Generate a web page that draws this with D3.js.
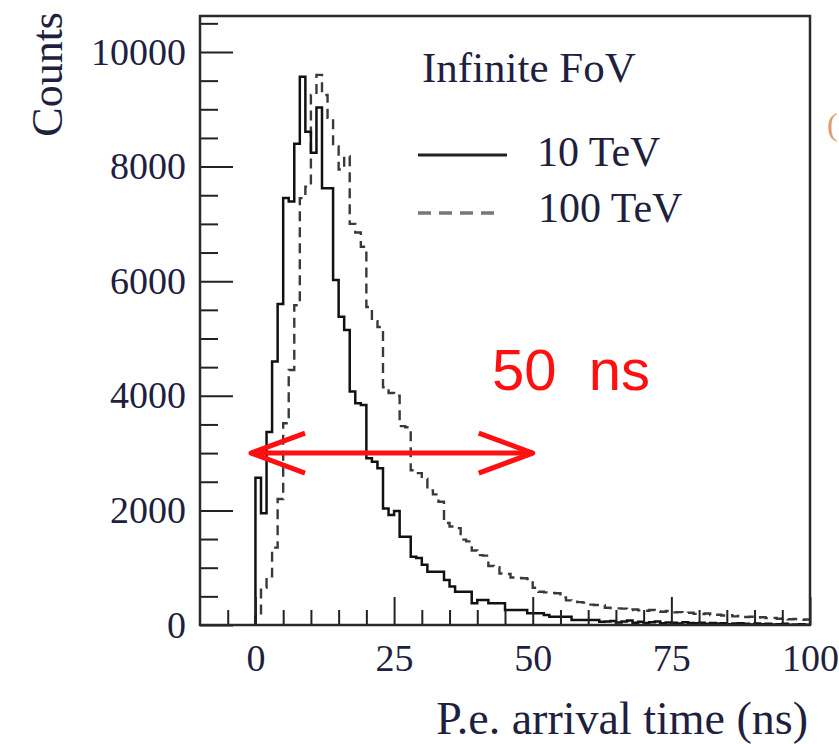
<!DOCTYPE html>
<html>
<head>
<meta charset="utf-8">
<script src="https://cdn.jsdelivr.net/npm/d3@7/dist/d3.min.js"></script>
<style>
  html, body { margin: 0; padding: 0; background: #fff; }
  svg { display: block; }
</style>
</head>
<body>
<svg id="chart" width="839" height="744"></svg>
<script>
// Photo-electron arrival time histograms, 1 ns bins starting at t = 0 ns
const binWidthNs = 1;
const counts10TeV = [
  2570, 1950, 3370, 4600, 5600, 7450, 7390, 8400, 9570, 8610,
  8240, 9030, 7620, 7620, 6020, 5380, 5150, 4075, 3870, 3840,
  2910, 2850, 2735, 2035, 1920, 1990, 1540, 1540, 1190, 1170,
  1050, 930, 930, 930, 785, 670, 580, 580, 580, 380,
  436, 436, 378, 378, 378, 262, 262, 262, 262, 204,
  204, 204, 175, 145, 145, 145, 145, 87, 87, 87,
  87, 87, 58, 60, 70, 45, 60, 80, 40, 55,
  35, 50, 60, 30, 45, 40, 25, 50, 35, 30,
  40, 20, 35, 25, 30, 15, 25, 30, 20, 10,
  25, 15, 20, 10, 15, 20, 5, 10, 15, 5
];
const counts100TeV = [
  150, 650, 850, 1350, 2200, 3520, 4450, 5580, 7450, 7650,
  9250, 9600, 9250, 8850, 8350, 7950, 8180, 7000, 6850, 6600,
  5550, 5300, 5200, 4150, 4050, 4000, 3470, 3450, 2700, 2650,
  2550, 2350, 2280, 2150, 1780, 1720, 1690, 1490, 1460, 1300,
  1220, 1210, 1030, 1010, 900, 890, 830, 820, 815, 800,
  650, 580, 570, 560, 555, 480, 430, 405, 400, 390,
  355, 350, 345, 300, 295, 290, 285, 260, 270, 255,
  250, 262, 240, 230, 245, 220, 225, 210, 215, 195,
  190, 200, 175, 180, 165, 170, 150, 160, 140, 145,
  130, 135, 120, 125, 110, 115, 100, 105, 90, 95
];

// Axis ticks
const xMajorTicks = [0, 25, 50, 75, 100];
const xMinorTicks = [-5, 5, 10, 15, 20, 30, 35, 40, 45, 55, 60, 65, 70, 80, 85, 90, 95];
const yMajorTicks = [0, 2000, 4000, 6000, 8000, 10000];
const yMinorTicks = [500, 1000, 1500, 2500, 3000, 3500, 4500, 5000, 5500, 6500, 7000, 7500, 8500, 9000, 9500, 10500];

// Legend and annotation
const legendTitle = "Infinite FoV";
const seriesLabels = ["10 TeV", "100 TeV"];
const spanStartNs = -0.8, spanEndNs = 50, spanLevel = 3000;
const spanLabel = "50  ns";

const svg = d3.select("#chart");
const plot = { left: 200, right: 810, top: 16, bottom: 625 };

const x = d3.scaleLinear().domain([-10, 100]).range([plot.left, plot.right]);
const y = d3.scaleLinear().domain([0, 10628]).range([plot.bottom, plot.top]);

const textColor = "#1f1f3f";
const serif = "'Liberation Serif', 'Times New Roman', serif";

// Histogram outlines
function stepPoints(vals) {
  const pts = [[0, 0]];
  vals.forEach((v, i) => pts.push([i * binWidthNs, v]));
  pts.push([vals.length * binWidthNs, vals[vals.length - 1]]);
  return pts;
}
const line = d3.line()
  .x(d => x(d[0]))
  .y(d => y(d[1]))
  .curve(d3.curveStepAfter);

const g = svg.append("g");
g.append("defs").append("clipPath").attr("id", "plotClip")
  .append("rect")
  .attr("x", plot.left).attr("y", plot.top)
  .attr("width", plot.right - plot.left).attr("height", plot.bottom - plot.top);

const hist = g.append("g").attr("clip-path", "url(#plotClip)");
hist.append("path")
  .attr("d", line(stepPoints(counts100TeV)))
  .attr("fill", "none")
  .attr("stroke", "#3a3a3a")
  .attr("stroke-width", 2.4)
  .attr("stroke-dasharray", "10,6");
hist.append("path")
  .attr("d", line(stepPoints(counts10TeV)))
  .attr("fill", "none")
  .attr("stroke", "#111")
  .attr("stroke-width", 2.5);

// Axes with inward ticks
const xAxis = d3.axisBottom(x).tickValues(xMajorTicks).tickSize(-28).tickPadding(19)
  .tickFormat(d3.format("d"));
const xAxisG = g.append("g").attr("transform", `translate(0,${plot.bottom})`).call(xAxis);
const xMinorG = g.append("g").attr("transform", `translate(0,${plot.bottom})`)
  .call(d3.axisBottom(x).tickValues(xMinorTicks).tickSize(-15).tickFormat(""));

const yAxis = d3.axisLeft(y).tickValues(yMajorTicks).tickSize(-33).tickPadding(14)
  .tickFormat(d3.format("d"));
const yAxisG = g.append("g").attr("transform", `translate(${plot.left},0)`).call(yAxis);
const yMinorG = g.append("g").attr("transform", `translate(${plot.left},0)`)
  .call(d3.axisLeft(y).tickValues(yMinorTicks).tickSize(-18).tickFormat(""));

[xAxisG, xMinorG, yAxisG, yMinorG].forEach(a => {
  a.select(".domain").remove();
  a.selectAll(".tick line").attr("stroke", "#222").attr("stroke-width", 2);
  a.selectAll(".tick text")
    .attr("fill", textColor)
    .style("font-family", serif)
    .style("font-size", "38px");
});

// Frame
g.append("rect")
  .attr("x", plot.left).attr("y", plot.top)
  .attr("width", plot.right - plot.left).attr("height", plot.bottom - plot.top)
  .attr("fill", "none").attr("stroke", "#2a2a2a").attr("stroke-width", 2.5);

// Axis titles
g.append("text")
  .attr("x", 808).attr("y", 734)
  .attr("text-anchor", "end")
  .attr("fill", textColor)
  .style("font-family", serif).style("font-size", "46px")
  .text("P.e. arrival time (ns)");
g.append("text")
  .attr("transform", "translate(62,12) rotate(-90)")
  .attr("text-anchor", "end")
  .attr("fill", textColor)
  .style("font-family", serif).style("font-size", "44px")
  .text("Counts");

// Legend
const leg = g.append("g");
leg.append("text")
  .attr("x", 422).attr("y", 82)
  .attr("fill", textColor)
  .style("font-family", serif).style("font-size", "43px")
  .text(legendTitle);
leg.append("line")
  .attr("x1", 418).attr("x2", 507).attr("y1", 155).attr("y2", 155)
  .attr("stroke", "#222").attr("stroke-width", 3);
leg.append("text")
  .attr("x", 537).attr("y", 166)
  .attr("fill", textColor)
  .style("font-family", serif).style("font-size", "42px")
  .text(seriesLabels[0]);
leg.append("line")
  .attr("x1", 418).attr("x2", 498).attr("y1", 213).attr("y2", 213)
  .attr("stroke", "#777").attr("stroke-width", 3.5)
  .attr("stroke-dasharray", "13,8");
leg.append("text")
  .attr("x", 538).attr("y", 222)
  .attr("fill", textColor)
  .style("font-family", serif).style("font-size", "42px")
  .text(seriesLabels[1]);

// 50 ns span marker
const red = "#ff1010";
const ay = y(spanLevel), ax0 = x(spanStartNs), ax1 = x(spanEndNs);
const arrow = g.append("g").attr("stroke", red).attr("stroke-width", 5)
  .attr("fill", "none").attr("stroke-linejoin", "round");
arrow.append("line").attr("x1", ax0).attr("x2", ax1).attr("y1", ay).attr("y2", ay);
arrow.append("path").attr("d", `M${ax0 + 54},${ay - 20} L${ax0},${ay} L${ax0 + 54},${ay + 20}`);
arrow.append("path").attr("d", `M${ax1 - 54},${ay - 20} L${ax1},${ay} L${ax1 - 54},${ay + 20}`);
g.append("text")
  .attr("x", 492).attr("y", 390)
  .attr("fill", red)
  .style("font-family", "'Liberation Sans', Arial, sans-serif")
  .style("font-size", "58px")
  .style("white-space", "pre")
  .text(spanLabel);

// Edge of the neighbouring panel's label
g.append("text")
  .attr("x", 827).attr("y", 135)
  .attr("fill", "#d8a070")
  .style("font-family", serif).style("font-size", "32px")
  .text("(");
</script>
</body>
</html>
